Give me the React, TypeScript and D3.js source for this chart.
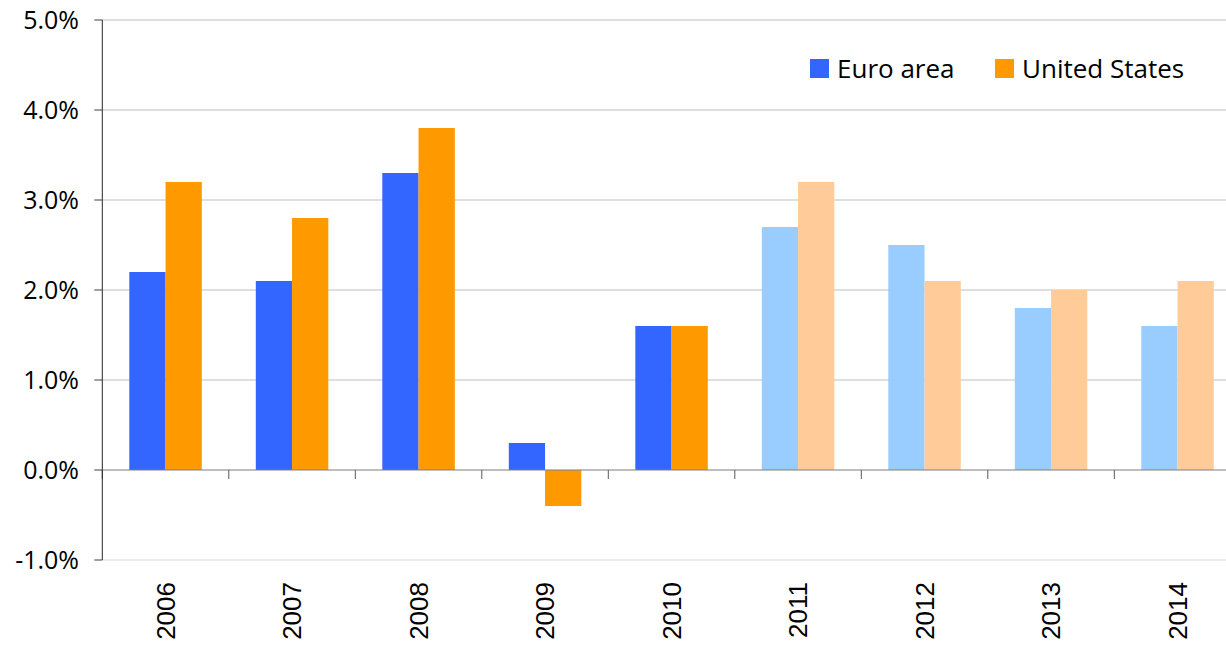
import React from 'react';
import * as d3 from 'd3';

const years = ['2006', '2007', '2008', '2009', '2010', '2011', '2012', '2013', '2014'];
const euroArea = [2.2, 2.1, 3.3, 0.3, 1.6, 2.7, 2.5, 1.8, 1.6];
const unitedStates = [3.2, 2.8, 3.8, -0.4, 1.6, 3.2, 2.1, 2.0, 2.1];
// 2011 onwards are forecasts (drawn in lighter shades)
const forecastYears = ['2011', '2012', '2013', '2014'];
const yTicks = [-1, 0, 1, 2, 3, 4, 5];

const seriesNames = ['Euro area', 'United States'];
const colors = ['#3366ff', '#ff9900'];
const lightColors = ['#99ccff', '#ffcc99'];

const App = () => {
  const width = 1226;
  const height = 645;
  const left = 102.3;
  const step = 126.5;

  // Set up the scales
  const x = d3.scaleBand<string>()
    .domain(years)
    .range([left, left + step * years.length])
    .padding(0);
  const inner = d3.scaleBand<string>()
    .domain(seriesNames)
    .range([0, x.bandwidth()])
    .paddingInner(0)
    .paddingOuter(0.745);
  const y = d3.scaleLinear().domain([-1, 5]).range([560, 20]);

  // plain hyphen for negatives, like the original
  const fmt = (t: number) => t.toFixed(1) + '%';
  const series = [euroArea, unitedStates];
  const font = '"Open Sans", "Noto Sans", sans-serif';

  return (
    <div style={{ position: 'fixed', left: 0, top: 0 }}>
      <svg width={width} height={height} style={{ display: 'block', background: '#fff' }}>
        {/* gridlines */}
        {yTicks.filter(t => t !== 0).map(t => (
          <line key={'g' + t} x1={left} x2={width} y1={y(t)} y2={y(t)}
            stroke={t === -1 ? '#d9d9d9' : '#bfbfbf'} strokeWidth={1} />
        ))}

        {/* bars */}
        {series.map((vals, si) => (
          <g key={seriesNames[si]}>
            {years.map((yr, i) => {
              const v = vals[i];
              const fc = forecastYears.includes(yr);
              return (
                <rect key={yr}
                  x={(x(yr) as number) + (inner(seriesNames[si]) as number)}
                  width={inner.bandwidth()}
                  y={y(Math.max(0, v))}
                  height={Math.abs(y(v) - y(0))}
                  fill={fc ? lightColors[si] : colors[si]} />
              );
            })}
          </g>
        ))}

        {/* zero line with category ticks */}
        <line x1={left} x2={width} y1={y(0)} y2={y(0)} stroke="#7f7f7f" strokeWidth={1.2} />
        {years.map(yr => (
          <line key={'t' + yr} x1={x(yr)} x2={x(yr)} y1={y(0)} y2={y(0) + 9}
            stroke="#595959" strokeWidth={1} />
        ))}

        {/* y axis */}
        <line x1={left} x2={left} y1={y(5)} y2={y(-1)} stroke="#262626" strokeWidth={1} />
        {yTicks.map(t => (
          <g key={'y' + t}>
            <line x1={left - 8} x2={left} y1={y(t)} y2={y(t)} stroke="#404040" strokeWidth={1} />
            <text x={79} y={y(t)} dy="0.36em" textAnchor="end"
              fontFamily={font} fontSize={25} fill="#000">
              {fmt(t)}
            </text>
          </g>
        ))}

        {/* x labels */}
        {years.map(yr => {
          const cx = (x(yr) as number) + x.bandwidth() / 2;
          return (
            <text key={'l' + yr} transform={`translate(${cx + 9},582) rotate(-90)`}
              textAnchor="end" fontFamily='"Liberation Sans", Arial, sans-serif'
              fontSize={26} fill="#000">
              {yr}
            </text>
          );
        })}

        {/* legend */}
        {seriesNames.map((name, i) => {
          const lx = i === 0 ? 810 : 995;
          return (
            <g key={'lg' + name}>
              <rect x={lx} y={59} width={19} height={19} fill={colors[i]} />
              <text x={lx + 27} y={69} dy="0.36em" fontFamily={font} fontSize={26} fill="#000">
                {name}
              </text>
            </g>
          );
        })}
      </svg>
    </div>
  );
};

export default App;
